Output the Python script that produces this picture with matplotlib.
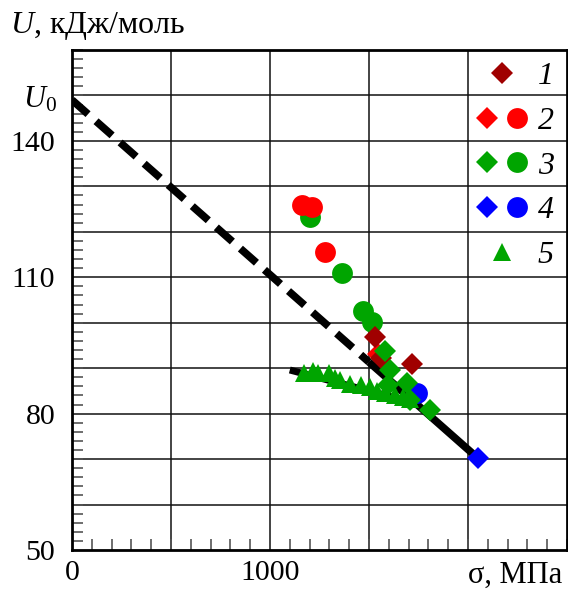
import matplotlib
matplotlib.use("Agg")
import matplotlib.pyplot as plt
from matplotlib.lines import Line2D
from matplotlib.legend_handler import HandlerTuple
from matplotlib.ticker import MultipleLocator
from matplotlib.transforms import blended_transform_factory

plt.rcParams["font.family"] = ["Liberation Serif", "DejaVu Serif"]
plt.rcParams["mathtext.fontset"] = "custom"
plt.rcParams["mathtext.it"] = "Liberation Serif:italic"
plt.rcParams["mathtext.rm"] = "Liberation Serif"

# ---- data: activation energy U (kJ/mol) vs stress sigma (MPa) ----
s1_sigma = [1530, 1561, 1717]
s1_U = [96.8, 92.2, 90.9]

s2_d_sigma = [1545]
s2_d_U = [93.1]
s2_c_sigma = [1162, 1212, 1278]
s2_c_U = [125.8, 125.4, 115.5]

s3_d_sigma = [1581, 1606, 1596, 1692, 1707, 1808]
s3_d_U = [93.7, 89.6, 86.3, 86.7, 83.0, 80.8]
s3_c_sigma = [1202, 1364, 1470, 1515]
s3_c_U = [123.2, 110.9, 102.5, 100.1]

s4_d_sigma = [2050]
s4_d_U = [70.2]
s4_c_sigma = [1742]
s4_c_U = [84.5]

s5_sigma = [1170, 1215, 1240, 1300, 1330, 1355, 1405, 1460, 1505, 1540,
            1580, 1630, 1670, 1705]
s5_U = [89.0, 89.3, 89.0, 89.0, 87.8, 87.3, 86.5, 86.2, 85.8, 85.0,
        84.6, 84.2, 83.6, 83.2]

# linear law U = U0 - gamma*sigma
U0 = 149.0
gamma = 0.03844
fit_dashed_sigma = [0, 1500]
fit_solid_sigma = [1500, 2050]

# linear trend of series 5
s5_fit_a = 102.25
s5_fit_b = 0.0115
s5_fit_sigma = [1100, 1700]

legend_labels = ["1", "2", "3", "4", "5"]
y_tick_labels = {50: "50", 80: "80", 110: "110", 140: "140"}
x_tick_labels = {0: "0", 1000: "1000"}

DARKRED = "#A00000"
RED = "#FF0000"
GREEN = "#00A500"
BLUE = "#0000FF"

fig = plt.figure(figsize=(5.68, 5.91), dpi=100)
ax = fig.add_axes([72 / 568, 41 / 591, 495 / 568, 500 / 591])
ax.set_xlim(0, 2500)
ax.set_ylim(50, 160)

# grid
for x in range(500, 2500, 500):
    ax.axvline(x, color="#111111", lw=1.1, zorder=0)
for y in range(60, 160, 10):
    ax.axhline(y, color="#111111", lw=1.1, zorder=0)

# fitted lines
fit_line = lambda s: [U0 - gamma * v for v in s]
ax.plot(fit_dashed_sigma, fit_line(fit_dashed_sigma), color="black", lw=5.5,
        dashes=(2.8, 1.4), solid_capstyle="butt", dash_capstyle="butt", zorder=2)
ax.plot(fit_solid_sigma, fit_line(fit_solid_sigma), color="black", lw=5.5,
        solid_capstyle="butt", zorder=2)
ax.plot(s5_fit_sigma, [s5_fit_a - s5_fit_b * v for v in s5_fit_sigma],
        color="black", lw=5, solid_capstyle="butt", zorder=2)

mk = dict(ls="none", mew=0, zorder=3)
DS, CS, TS = 11, 15, 13
ax.plot(s3_c_sigma, s3_c_U, marker="o", ms=CS, color=GREEN, **mk)
ax.plot(s2_c_sigma, s2_c_U, marker="o", ms=CS, color=RED, **mk)
ax.plot(s2_d_sigma, s2_d_U, marker="D", ms=DS, color=RED, **mk)
ax.plot(s1_sigma, s1_U, marker="D", ms=DS, color=DARKRED, **mk)
ax.plot(s4_c_sigma, s4_c_U, marker="o", ms=CS, color=BLUE, **mk)
ax.plot(s5_sigma, s5_U, marker="^", ms=TS, color=GREEN, **mk)
ax.plot(s3_d_sigma, s3_d_U, marker="D", ms=DS, color=GREEN, **mk)
ax.plot(s4_d_sigma, s4_d_U, marker="D", ms=DS, color=BLUE, **mk)

# ticks
ax.set_xticks(list(x_tick_labels))
ax.set_xticklabels(list(x_tick_labels.values()))
ax.set_yticks(list(y_tick_labels))
ax.set_yticklabels(list(y_tick_labels.values()))
ax.xaxis.set_minor_locator(MultipleLocator(100))
ax.yaxis.set_minor_locator(MultipleLocator(2))
ax.tick_params(which="major", length=0, labelsize=21.5)
ax.tick_params(axis="y", which="major", pad=12)
ax.tick_params(axis="x", which="major", pad=7)
ax.tick_params(which="minor", direction="in", length=8, width=1.2,
               color="#555555", top=False, right=False)
for side, sp in ax.spines.items():
    sp.set_linewidth(2.0)
    sp.set_color("black")
    sp.set_zorder(4)

trans = blended_transform_factory(ax.transAxes, ax.transData)
ax.text(-0.031, U0, r"$U_0$", transform=trans, ha="right", va="center", fontsize=22)

ax.text(-0.125, 1.034, r"$U$, кДж/моль", transform=ax.transAxes, ha="left",
        va="baseline", fontsize=23)
ax.text(0.99, -0.066, "σ, МПа", transform=ax.transAxes, ha="right",
        va="baseline", fontsize=22)

# legend
def h(marker, color, size):
    return Line2D([], [], ls="none", marker=marker, ms=size, mew=0, color=color)

handles = [
    h("D", DARKRED, DS),
    (h("D", RED, DS), h("o", RED, CS)),
    (h("D", GREEN, DS), h("o", GREEN, CS)),
    (h("D", BLUE, DS), h("o", BLUE, CS)),
    h("^", GREEN, TS),
]
ax.legend(handles, legend_labels, handler_map={tuple: HandlerTuple(ndivide=None, pad=0.31)},
          loc="upper left", bbox_to_anchor=(0.818, 0.977), frameon=False,
          borderpad=0, borderaxespad=0, handlelength=1.565, handletextpad=0.34,
          labelspacing=0.485, prop={"family": "Liberation Serif", "style": "italic", "size": 23})

fig.savefig("out.png", dpi=100)
